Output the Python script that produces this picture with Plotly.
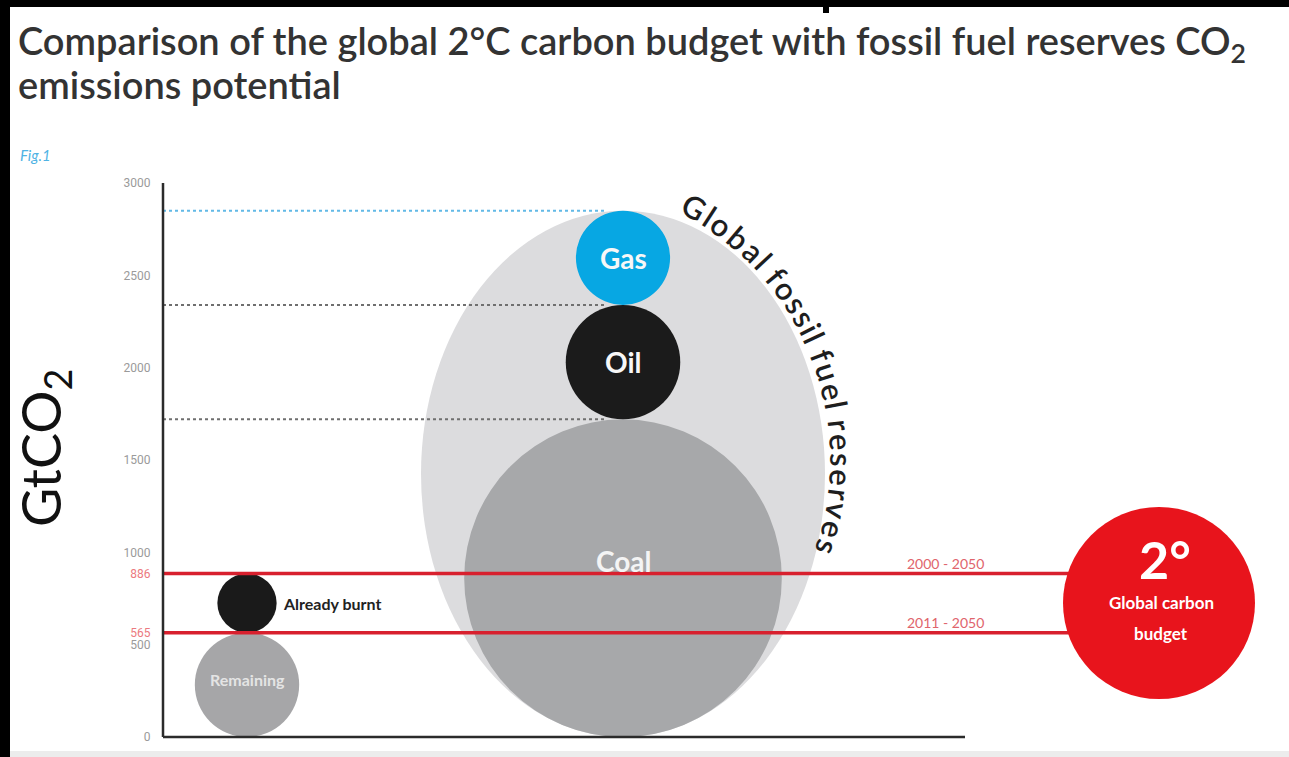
import math
import plotly.graph_objects as go

# ---------------- data (GtCO2) ----------------
fuel_names = ["Coal", "Oil", "Gas"]
fuel_gtco2 = [1720, 620, 510]              # stacked fossil fuel reserves
budget_part_names = ["Remaining", "Already burnt"]
budget_part_gtco2 = [565, 321]              # remaining 2011-2050 + burnt 2000-2011
budget_periods = ["2011 - 2050", "2000 - 2050"]
budget_levels = [565, 886]
y_tick_values = [0, 500, 565, 886, 1000, 1500, 2000, 2500, 3000]
y_tick_labels = ["0", "500", "565", "886", "1000", "1500", "2000", "2500", "3000"]
highlight_ticks = ["565", "886"]

# ---------------- geometry (pixels) ----------------
W, H = 1289, 757
PL, PR, PT, PB = 163, 1275, 183, 745       # plot area in pixels
ZERO_PX, TOP_PX, Y_MAX = 737, 183, 3000
U = Y_MAX / (ZERO_PX - TOP_PX)              # data units per pixel (same on x and y)


def xd(px):
    return (px - PL) * U


def yd(py):
    return (ZERO_PX - py) * U


def xp(px):
    return (px - PL) / (PR - PL)


def yp(py):
    return (PB - py) / (PB - PT)


LEFT_X = xd(247)
FOSSIL_X = xd(623)
BUDGET_X = xd(1159)
ELLIPSE_HALF_W = 202 * U
BUDGET_R = 96 * U

# colours
FUEL_COLORS = {"Coal": "#a7a8aa", "Oil": "#1b1b1b", "Gas": "#07a7e3"}
FUEL_TEXT = {"Coal": "#f4f4f4", "Oil": "#f7f7f7", "Gas": "#f7f7f7"}
FUEL_LABEL_DY = {"Coal": 17, "Oil": 0, "Gas": 0}
RESERVE_BG = "#dcdcde"
RED_LINE = "#d8202e"
BUDGET_RED = "#e8141c"
DOT_GRAY = "#6f6f6f"
DOT_BLUE = "#62b9e6"
AXIS = "#2b2b2b"
FONT = "Lato, Noto Sans, sans-serif"

fig = go.Figure()
shapes = []
annotations = []

# ---- fossil fuel reserves (stacked circles inside a light ellipse) ----
tops = []
acc = 0
for v in fuel_gtco2:
    acc += v
    tops.append(acc)
bottoms = [t - v for t, v in zip(tops, fuel_gtco2)]

shapes.append(dict(type="circle", xref="x", yref="y", layer="below",
                   x0=FOSSIL_X - ELLIPSE_HALF_W, x1=FOSSIL_X + ELLIPSE_HALF_W,
                   y0=0, y1=tops[-1], fillcolor=RESERVE_BG, line=dict(width=0)))
for name, v, b in zip(fuel_names, fuel_gtco2, bottoms):
    shapes.append(dict(type="circle", xref="x", yref="y", layer="below",
                       x0=FOSSIL_X - v / 2, x1=FOSSIL_X + v / 2, y0=b, y1=b + v,
                       fillcolor=FUEL_COLORS[name], line=dict(width=0)))
    annotations.append(dict(x=FOSSIL_X, y=b + v / 2 + FUEL_LABEL_DY[name] * U,
                            xref="x", yref="y", text="<b>%s</b>" % name, showarrow=False,
                            font=dict(family=FONT, size=28, color=FUEL_TEXT[name]),
                            xanchor="center", yanchor="middle"))

# dotted guide lines at the top of each fuel
dot_colors = [DOT_GRAY, DOT_GRAY, DOT_BLUE]
for t, c in zip(tops, dot_colors):
    fig.add_trace(go.Scatter(x=[0, xd(607)], y=[t, t], mode="lines",
                             line=dict(color=c, width=2, dash="dot"),
                             hoverinfo="skip", showlegend=False))

# ---- carbon budget column (remaining + already burnt) ----
b = 0
part_colors = {"Remaining": "#a6a6a8", "Already burnt": "#1a1a1a"}
for name, v in zip(budget_part_names, budget_part_gtco2):
    shapes.append(dict(type="circle", xref="x", yref="y", layer="below",
                       x0=LEFT_X - v / 2, x1=LEFT_X + v / 2, y0=b, y1=b + v,
                       fillcolor=part_colors[name], line=dict(width=0)))
    if name == "Remaining":
        annotations.append(dict(x=LEFT_X, y=b + v / 2 + 5 * U, xref="x", yref="y",
                                text="<b>Remaining</b>", showarrow=False,
                                font=dict(family=FONT, size=16, color="#e4e4e4")))
    else:
        annotations.append(dict(x=xd(281), y=b + v / 2, xref="x", yref="y",
                                text="<b>Already burnt</b>", showarrow=False,
                                xanchor="left", yanchor="middle",
                                font=dict(family=FONT, size=16, color="#222222")))
    b += v

# ---- red budget lines ----
for lvl, period in zip(budget_levels, budget_periods):
    fig.add_trace(go.Scatter(x=[0, BUDGET_X], y=[lvl, lvl], mode="lines",
                             line=dict(color=RED_LINE, width=3.5),
                             hoverinfo="skip", showlegend=False))
    annotations.append(dict(x=xd(945), y=lvl + 10 * U, xref="x", yref="y", text=period,
                            showarrow=False, font=dict(family=FONT, size=14, color="#e0646c"),
                            xanchor="center", yanchor="middle"))

# ---- 2 degree budget circle ----
bc_y = sum(budget_levels) / len(budget_levels)
shapes.append(dict(type="circle", xref="x", yref="y", layer="above",
                   x0=BUDGET_X - BUDGET_R, x1=BUDGET_X + BUDGET_R,
                   y0=bc_y - BUDGET_R, y1=bc_y + BUDGET_R,
                   fillcolor=BUDGET_RED, line=dict(width=0)))
annotations.append(dict(x=BUDGET_X + 6 * U, y=bc_y + 44 * U, xref="x", yref="y",
                        text="<b>2°</b>", showarrow=False,
                        font=dict(family=FONT, size=52, color="white")))
annotations.append(dict(x=BUDGET_X + 2 * U, y=bc_y + 1 * U, xref="x", yref="y",
                        text="<b>Global carbon</b>", showarrow=False,
                        font=dict(family=FONT, size=17, color="white")))
annotations.append(dict(x=BUDGET_X + 2 * U, y=bc_y - 30 * U, xref="x", yref="y",
                        text="<b>budget</b>", showarrow=False,
                        font=dict(family=FONT, size=17, color="white")))

# ---- curved "Global fossil fuel reserves" label ----
arc_text = "Global fossil fuel reserves"
char_w = {"G": .74, "l": .26, "o": .58, "b": .58, "a": .53, " ": .24, "f": .33,
          "s": .44, "i": .26, "u": .57, "e": .55, "r": .39, "v": .52}
ARC_CX, ARC_CY, ARC_R = xd(551), yd(460), 291 * U
TH0, TH1 = math.radians(29.5), math.radians(107.5)
ws = [char_w.get(ch, .5) for ch in arc_text]
cum = []
s = 0
for w in ws:
    cum.append(s + w / 2)
    s += w
for ch, c in zip(arc_text, cum):
    if ch == " ":
        continue
    th = TH0 + (c - cum[0]) / (cum[-1] - cum[0]) * (TH1 - TH0)
    annotations.append(dict(x=ARC_CX + ARC_R * math.sin(th), y=ARC_CY + ARC_R * math.cos(th),
                            xref="x", yref="y", text=ch, showarrow=False,
                            textangle=math.degrees(th), xanchor="center", yanchor="middle",
                            font=dict(family=FONT, size=31, color="#1e1e1e", weight=600)))

# ---- axes lines (drawn as shapes) ----
shapes.append(dict(type="line", xref="paper", yref="y", x0=0, x1=0, y0=0, y1=Y_MAX,
                   line=dict(color=AXIS, width=2.5), layer="above"))
shapes.append(dict(type="line", xref="x", yref="y", x0=0, x1=xd(965), y0=0, y1=0,
                   line=dict(color=AXIS, width=2.5), layer="above"))

# ---- y axis title and chart titles ----
annotations.append(dict(x=xp(44), y=yp(448), xref="paper", yref="paper",
                        text="GtCO<sub>2</sub>", showarrow=False, textangle=-90,
                        font=dict(family=FONT, size=54, color="#111111"),
                        xanchor="center", yanchor="middle"))
TITLE_FONT = dict(family=FONT, size=38, color="#333333", weight=600)
annotations.append(dict(x=xp(16), y=yp(43), xref="paper", yref="paper", align="left",
                        text="Comparison of the global 2°C carbon budget with fossil fuel reserves CO<sub>2</sub>",
                        showarrow=False, xanchor="left", yanchor="middle", font=TITLE_FONT))
annotations.append(dict(x=xp(16), y=yp(84), xref="paper", yref="paper", align="left",
                        text="emissions potential",
                        showarrow=False, xanchor="left", yanchor="middle", font=TITLE_FONT))
annotations.append(dict(x=xp(18), y=yp(155), xref="paper", yref="paper",
                        text="<i>Fig.1</i>", showarrow=False, xanchor="left", yanchor="middle",
                        font=dict(family=FONT, size=15, color="#4fb3e4")))

# ---- page frame (black borders of the original screenshot) ----
for (x0, x1, y0, y1, col) in [(0, 10, 0, 757, "#000000"), (0, 1289, 0, 7, "#000000"),
                              (823, 829, 0, 13, "#000000"), (10, 1289, 751, 757, "#ececec")]:
    shapes.append(dict(type="rect", xref="paper", yref="paper",
                       x0=xp(x0), x1=xp(x1), y0=yp(y1), y1=yp(y0),
                       fillcolor=col, line=dict(width=0), layer="above"))

tick_text = ['<span style="color:#ec7a80">%s</span>' % t if t in highlight_ticks else t
             for t in y_tick_labels]

fig.update_layout(
    width=W, height=H,
    margin=dict(l=PL, r=W - PR, t=PT, b=H - PB, pad=0),
    paper_bgcolor="white", plot_bgcolor="white",
    showlegend=False,
    shapes=shapes, annotations=annotations,
    xaxis=dict(range=[0, xd(PR)], visible=False, fixedrange=True),
    yaxis=dict(range=[yd(PB), Y_MAX], showgrid=False, zeroline=False, showline=False,
               tickvals=y_tick_values, ticktext=tick_text, ticks="outside", ticklen=9,
               tickcolor="rgba(0,0,0,0)",
               tickfont=dict(family="Liberation Sans Narrow, Roboto, sans-serif", size=12,
                             color="#9a9a9a"),
               fixedrange=True),
)

fig.write_html("out.html", config={"displayModeBar": False},
               post_script="document.body.style.margin='0';document.body.style.overflow='hidden';")
